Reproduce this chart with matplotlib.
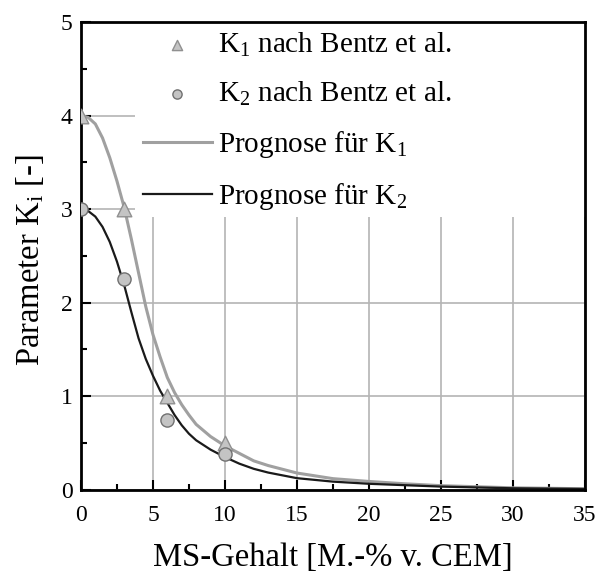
import matplotlib.pyplot as plt
from matplotlib.patches import Rectangle
from matplotlib.ticker import MultipleLocator

# Messwerte nach Bentz et al.
ms_points = [0, 3, 6, 10]
k1_points = [4.0, 3.0, 1.0, 0.5]
k2_points = [3.0, 2.25, 0.75, 0.38]

# Prognosekurven
ms_curve = [0, 0.5, 1, 1.5, 2, 2.5, 3, 3.5, 4, 4.5, 5, 5.5, 6, 6.5, 7, 7.5, 8, 9, 10,
            11, 12, 13, 15, 17.5, 20, 22.5, 25, 30, 35]
k1_curve = [4.00, 3.98, 3.91, 3.76, 3.55, 3.30, 3.02, 2.68, 2.32, 1.96, 1.66, 1.42,
            1.20, 1.04, 0.91, 0.80, 0.70, 0.57, 0.47, 0.39, 0.31, 0.26, 0.18, 0.12,
            0.09, 0.065, 0.045, 0.022, 0.012]
k2_curve = [3.00, 2.98, 2.92, 2.81, 2.65, 2.44, 2.19, 1.90, 1.62, 1.40, 1.22, 1.06,
            0.93, 0.80, 0.69, 0.60, 0.53, 0.43, 0.35, 0.28, 0.225, 0.185, 0.125, 0.088,
            0.065, 0.05, 0.035, 0.017, 0.010]

plt.rcParams['font.family'] = ['Liberation Serif', 'DejaVu Serif']
plt.rcParams['mathtext.default'] = 'regular'

fig = plt.figure(figsize=(6.04, 5.77), dpi=100)
ax = fig.add_axes([0.134, 0.151, 0.8345, 0.811])

ax.set_axisbelow(True)
ax.grid(True, color='#b4b4b4', linewidth=1.2)

# weisser Hintergrund der Legende ueber dem Gitter
ax.add_patch(Rectangle((0.107, 0.583), 0.893, 0.417, transform=ax.transAxes,
                       facecolor='white', edgecolor='none', zorder=1))

l1, = ax.plot(ms_curve, k1_curve, color='#a0a0a0', linewidth=2.2, zorder=2,
              label='Prognose für K$_1$')
l2, = ax.plot(ms_curve, k2_curve, color='#1a1a1a', linewidth=1.6, zorder=2,
              label='Prognose für K$_2$')
p1 = ax.scatter(ms_points, k1_points, marker='^', s=110, facecolor='#c4c4c4',
                edgecolor='#909090', linewidth=1, zorder=3, label='K$_1$ nach Bentz et al.')
p2 = ax.scatter(ms_points, k2_points, marker='o', s=90, facecolor='#c4c4c4',
                edgecolor='#707070', linewidth=1, zorder=3, label='K$_2$ nach Bentz et al.')

ax.set_xlim(0, 35)
ax.set_ylim(0, 5)
ax.xaxis.set_major_locator(MultipleLocator(5))
ax.xaxis.set_minor_locator(MultipleLocator(2.5))
ax.yaxis.set_major_locator(MultipleLocator(1))
ax.yaxis.set_minor_locator(MultipleLocator(0.5))
ax.tick_params(which='both', direction='in', width=1.5, labelsize=17)
ax.tick_params(axis='x', pad=11)
ax.tick_params(axis='y', pad=6)
ax.tick_params(which='major', length=7)
ax.tick_params(which='minor', length=4)
for s in ax.spines.values():
    s.set_linewidth(2)

ax.set_xlabel('MS-Gehalt [M.-% v. CEM]', fontsize=23.5, labelpad=12)
ax.set_ylabel('Parameter K$_i$ [-]', fontsize=23.5)
ax.yaxis.set_label_coords(-0.07, 0.49)

leg = ax.legend(handles=[p1, p2, l1, l2], loc='upper left',
                bbox_to_anchor=(0.123, 0.981), frameon=False, fontsize=21,
                labelspacing=0.72, handlelength=2.36, handletextpad=0.2,
                borderpad=0, borderaxespad=0, markerscale=0.7)
leg.set_zorder(4)

fig.savefig('out.png', dpi=100)
